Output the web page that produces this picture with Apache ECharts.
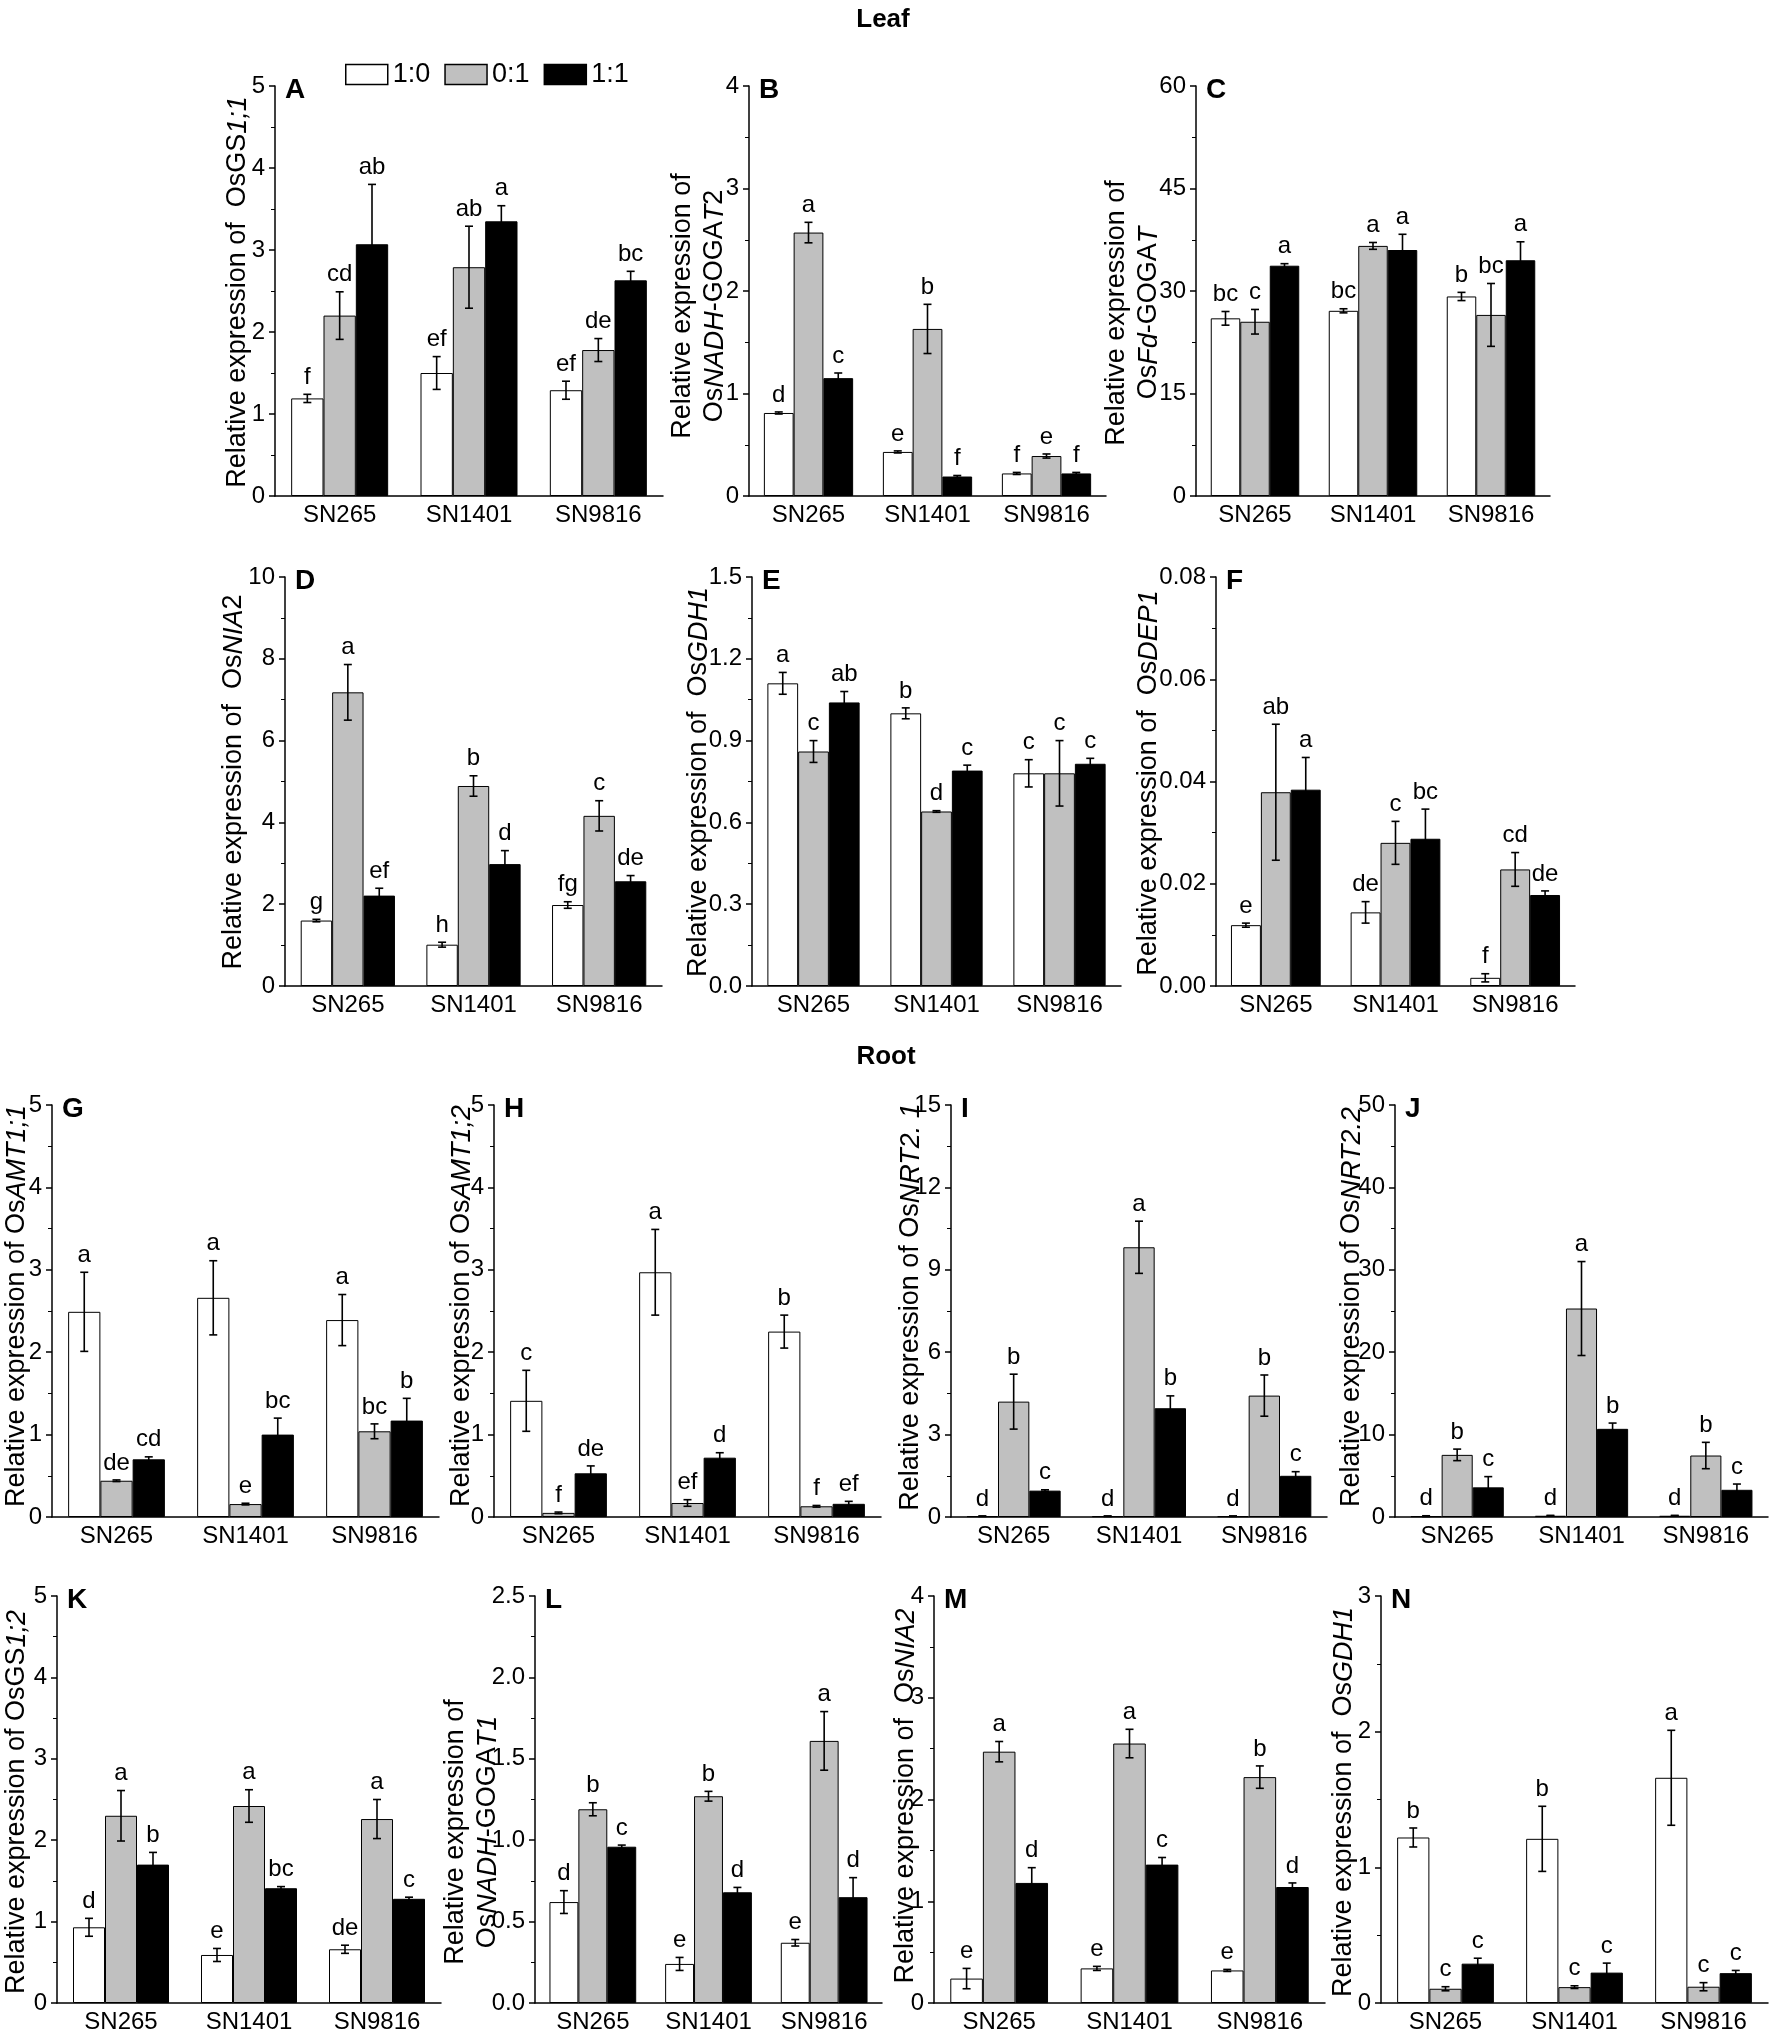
<!DOCTYPE html>
<html>
<head>
<meta charset="utf-8">
<script src="https://cdn.jsdelivr.net/npm/echarts@6/dist/echarts.min.js"></script>
<style>
  html, body { margin: 0; padding: 0; background: #fff; }
  #chart { width: 1772px; height: 2038px; }
</style>
</head>
<body>
<div id="chart"></div>
<script>
var cultivars = ['SN265', 'SN1401', 'SN9816'];
var treatments = ['1:0', '0:1', '1:1'];

// each array: [1:0 values, 0:1 values, 1:1 values], per cultivar
// Leaf
var aMean = [[1.19, 1.50, 1.29], [2.20, 2.79, 1.78], [3.07, 3.35, 2.63]];
var aErr  = [[0.05, 0.20, 0.11], [0.29, 0.50, 0.14], [0.73, 0.19, 0.11]];
var aSig  = [['f', 'ef', 'ef'], ['cd', 'ab', 'de'], ['ab', 'a', 'bc']];

var bMean = [[0.81, 0.43, 0.22], [2.57, 1.63, 0.39], [1.15, 0.19, 0.22]];
var bErr  = [[0.01, 0.01, 0.01], [0.10, 0.24, 0.02], [0.05, 0.01, 0.01]];
var bSig  = [['d', 'e', 'f'], ['a', 'b', 'e'], ['c', 'f', 'f']];

var cMean = [[26.0, 27.1, 29.2], [25.5, 36.6, 26.5], [33.7, 36.0, 34.5]];
var cErr  = [[1.0, 0.3, 0.6], [1.8, 0.5, 4.6], [0.3, 2.3, 2.7]];
var cSig  = [['bc', 'bc', 'b'], ['c', 'a', 'bc'], ['a', 'a', 'a']];

var dMean = [[1.60, 1.01, 1.98], [7.18, 4.89, 4.16], [2.21, 2.98, 2.56]];
var dErr  = [[0.03, 0.06, 0.08], [0.68, 0.25, 0.37], [0.18, 0.33, 0.14]];
var dSig  = [['g', 'h', 'fg'], ['a', 'b', 'c'], ['ef', 'd', 'de']];

var eMean = [[1.11, 1.00, 0.78], [0.86, 0.64, 0.78], [1.04, 0.79, 0.815]];
var eErr  = [[0.04, 0.02, 0.05], [0.04, 0.003, 0.12], [0.04, 0.02, 0.02]];
var eSig  = [['a', 'b', 'c'], ['c', 'd', 'c'], ['ab', 'c', 'c']];

var fMean = [[0.0119, 0.0144, 0.0016], [0.0379, 0.0280, 0.0228], [0.0384, 0.0288, 0.0178]];
var fErr  = [[0.0004, 0.0021, 0.0008], [0.0133, 0.0042, 0.0033], [0.0063, 0.0058, 0.0008]];
var fSig  = [['e', 'de', 'f'], ['ab', 'c', 'cd'], ['a', 'bc', 'de']];

// Root
var gMean = [[2.49, 2.66, 2.39], [0.44, 0.157, 1.04], [0.70, 1.00, 1.17]];
var gErr  = [[0.48, 0.45, 0.31], [0.01, 0.01, 0.09], [0.03, 0.20, 0.27]];
var gSig  = [['a', 'a', 'a'], ['de', 'e', 'bc'], ['cd', 'bc', 'b']];

var hMean = [[1.41, 2.97, 2.25], [0.05, 0.17, 0.13], [0.53, 0.72, 0.16]];
var hErr  = [[0.37, 0.52, 0.20], [0.01, 0.04, 0.01], [0.09, 0.06, 0.03]];
var hSig  = [['c', 'a', 'b'], ['f', 'ef', 'f'], ['de', 'd', 'ef']];

var iMean = [[0.03, 0.03, 0.03], [4.20, 9.82, 4.42], [0.96, 3.96, 1.50]];
var iErr  = [[0.01, 0.01, 0.01], [1.00, 0.95, 0.75], [0.03, 0.45, 0.15]];
var iSig  = [['d', 'd', 'd'], ['b', 'a', 'b'], ['c', 'b', 'c']];

var jMean = [[0.10, 0.15, 0.15], [7.54, 25.3, 7.46], [3.6, 10.7, 3.3]];
var jErr  = [[0.05, 0.05, 0.05], [0.70, 5.7, 1.6], [1.3, 0.7, 0.7]];
var jSig  = [['d', 'd', 'd'], ['b', 'a', 'b'], ['c', 'b', 'c']];

var kMean = [[0.93, 0.59, 0.66], [2.30, 2.42, 2.26], [1.70, 1.41, 1.28]];
var kErr  = [[0.11, 0.08, 0.05], [0.31, 0.20, 0.24], [0.15, 0.02, 0.02]];
var kSig  = [['d', 'e', 'de'], ['a', 'a', 'a'], ['b', 'bc', 'c']];

var lMean = [[0.62, 0.24, 0.37], [1.19, 1.27, 1.61], [0.96, 0.68, 0.65]];
var lErr  = [[0.07, 0.04, 0.02], [0.04, 0.03, 0.18], [0.01, 0.03, 0.12]];
var lSig  = [['d', 'e', 'e'], ['b', 'b', 'a'], ['c', 'd', 'd']];

var mMean = [[0.24, 0.34, 0.32], [2.47, 2.55, 2.22], [1.18, 1.36, 1.14]];
var mErr  = [[0.10, 0.02, 0.01], [0.10, 0.14, 0.11], [0.15, 0.07, 0.04]];
var mSig  = [['e', 'e', 'e'], ['a', 'a', 'b'], ['d', 'c', 'd']];

var nMean = [[1.22, 1.21, 1.66], [0.105, 0.117, 0.12], [0.29, 0.224, 0.22]];
var nErr  = [[0.07, 0.24, 0.35], [0.015, 0.01, 0.03], [0.04, 0.07, 0.02]];
var nSig  = [['b', 'b', 'a'], ['c', 'c', 'c'], ['c', 'c', 'c']];

// y axis: max, interval, decimals
var axisMax   = [5, 4, 60, 10, 1.5, 0.08, 5, 5, 15, 50, 5, 2.5, 4, 3];
var axisStep  = [1, 1, 15, 2, 0.3, 0.02, 1, 1, 3, 10, 1, 0.5, 1, 1];
var axisDigits = [0, 0, 0, 0, 1, 2, 0, 0, 0, 0, 0, 1, 0, 0];

var panelIds = ['A', 'B', 'C', 'D', 'E', 'F', 'G', 'H', 'I', 'J', 'K', 'L', 'M', 'N'];
var geneLabels = [
  'Relative expression of  OsGS{i|1;1}',
  'Relative expression of\nOs{i|NADH}-GOGA{i|T}2',
  'Relative expression of\nOs{i|Fd}-GOGA{i|T}',
  'Relative expression of  Os{i|NIA}2',
  'Relative expression of  Os{i|GDH1}',
  'Relative expression of  Os{i|DEP1}',
  'Relative expression of Os{i|AMT1;1}',
  'Relative expression of Os{i|AMT1;2}',
  'Relative expression of Os{i|NRT2. 1}',
  'Relative expression of Os{i|NRT2.2}',
  'Relative expression of OsGS{i|1;2}',
  'Relative expression of\nOs{i|NADH}-GOGA{i|T1}',
  'Relative expression of  Os{i|NIA2}',
  'Relative expression of  Os{i|GDH1}'
];

var means = [aMean, bMean, cMean, dMean, eMean, fMean, gMean, hMean, iMean, jMean, kMean, lMean, mMean, nMean];
var errs  = [aErr, bErr, cErr, dErr, eErr, fErr, gErr, hErr, iErr, jErr, kErr, lErr, mErr, nErr];
var sigs  = [aSig, bSig, cSig, dSig, eSig, fSig, gSig, hSig, iSig, jSig, kSig, lSig, mSig, nSig];

// layout (px): plot box [left, top, right, bottom], y-label centre [x, y]
var boxes = [
  [275, 86, 663, 496], [749, 86, 1106, 496], [1196, 86, 1550, 496],
  [285, 577, 662, 986], [752, 577, 1121, 986], [1216, 577, 1575, 986],
  [52, 1105, 439, 1517], [494, 1105, 881, 1517], [951, 1105, 1327, 1517], [1395, 1105, 1768, 1517],
  [57, 1596, 441, 2003], [535, 1596, 882, 2003], [934, 1596, 1325, 2003], [1381, 1596, 1768, 2003]
];
var labelPos = [
  [238, 292], [699, 306], [1133, 313],
  [234, 782], [699, 782], [1149, 783],
  [17, 1306], [462, 1306], [911, 1307], [1352, 1307],
  [17, 1802], [472, 1832], [906, 1796], [1344, 1802]
];

var FONT = '"Liberation Sans", Arial, sans-serif';
var fills = ['#ffffff', '#c0c0c0', '#000000'];
var offsets = [-0.25, 0, 0.25];

function errorBars(letters) {
  return function (params, api) {
    var ci = api.value(0), m = api.value(1), e = api.value(2), t = api.value(3);
    var band = api.size([1, 0])[0];
    var x = api.coord([ci, m])[0] + offsets[t] * band;
    var yTop = api.coord([ci, m + e])[1];
    var yBot = api.coord([ci, Math.max(m - e, 0)])[1];
    var cap = 4;
    var st = { stroke: '#000', lineWidth: 1.6 };
    return {
      type: 'group',
      children: [
        { type: 'line', shape: { x1: x, y1: yTop, x2: x, y2: yBot }, style: st },
        { type: 'line', shape: { x1: x - cap, y1: yTop, x2: x + cap, y2: yTop }, style: st },
        { type: 'line', shape: { x1: x - cap, y1: yBot, x2: x + cap, y2: yBot }, style: st },
        {
          type: 'text', x: x, y: yTop - 5,
          style: {
            text: letters[params.dataIndex], align: 'center', verticalAlign: 'bottom',
            fontSize: 24, fontFamily: FONT, fill: '#000'
          }
        }
      ]
    };
  };
}

var grids = [], xAxes = [], yAxes = [], series = [], graphics = [];

panelIds.forEach(function (id, k) {
  var b = boxes[k];
  grids.push({ left: b[0], top: b[1], width: b[2] - b[0], height: b[3] - b[1] });
  xAxes.push({
    type: 'category', gridIndex: k, data: cultivars,
    axisLine: { lineStyle: { color: '#000', width: 1.5 } },
    axisTick: { length: 6, lineStyle: { color: '#000', width: 1.5 } },
    axisLabel: { color: '#000', fontSize: 24, fontFamily: FONT, margin: 7 }
  });
  var digits = axisDigits[k];
  yAxes.push({
    type: 'value', gridIndex: k, min: 0, max: axisMax[k], interval: axisStep[k],
    axisLine: { show: true, lineStyle: { color: '#000', width: 1.5 } },
    axisTick: { show: true, length: 6, lineStyle: { color: '#000', width: 1.5 } },
    minorTick: { show: true, splitNumber: 2, length: 4, lineStyle: { color: '#000', width: 1 } },
    splitLine: { show: false },
    axisLabel: {
      color: '#000', fontSize: 24, fontFamily: FONT, margin: 10,
      formatter: function (v) { return v.toFixed(digits); }
    }
  });

  treatments.forEach(function (tr, t) {
    series.push({
      type: 'bar', name: tr, xAxisIndex: k, yAxisIndex: k,
      data: means[k][t], barGap: '0%', barCategoryGap: '25%', silent: true,
      itemStyle: { color: fills[t], borderColor: '#000', borderWidth: 1 }
    });
  });

  var errData = [], letters = [];
  treatments.forEach(function (tr, t) {
    cultivars.forEach(function (cv, c) {
      errData.push([c, means[k][t][c], errs[k][t][c], t]);
      letters.push(sigs[k][t][c]);
    });
  });
  series.push({
    type: 'custom', xAxisIndex: k, yAxisIndex: k, z: 5, silent: true,
    renderItem: errorBars(letters), data: errData
  });

  graphics.push({
    type: 'text', left: b[0] + 10, top: b[1] - 10,
    style: { text: id, fontSize: 28, fontWeight: 'bold', fontFamily: FONT, fill: '#000' }
  });
  var lp = labelPos[k];
  graphics.push({
    type: 'text', x: lp[0], y: lp[1], rotation: Math.PI / 2,
    style: {
      text: geneLabels[k], align: 'center', verticalAlign: 'middle',
      fontSize: 27, fontFamily: FONT, fill: '#000', lineHeight: 32,
      rich: { i: { fontStyle: 'italic', fontSize: 27, fontFamily: FONT, lineHeight: 32 } }
    }
  });
});

graphics.push({
  type: 'text', x: 883, y: 20,
  style: { text: 'Leaf', align: 'center', verticalAlign: 'middle', fontSize: 26, fontWeight: 'bold', fontFamily: FONT, fill: '#000' }
});
graphics.push({
  type: 'text', x: 886, y: 1057,
  style: { text: 'Root', align: 'center', verticalAlign: 'middle', fontSize: 26, fontWeight: 'bold', fontFamily: FONT, fill: '#000' }
});

var chart = echarts.init(document.getElementById('chart'), null, { renderer: 'canvas' });
chart.setOption({
  backgroundColor: '#fff',
  animation: false,
  legend: {
    data: treatments, left: 340, top: 56, itemWidth: 42, itemHeight: 20, itemGap: 14,
    icon: 'rect', selectedMode: false,
    itemStyle: { borderColor: '#000', borderWidth: 1.5 },
    textStyle: { color: '#000', fontSize: 27, fontFamily: FONT }
  },
  grid: grids,
  xAxis: xAxes,
  yAxis: yAxes,
  series: series,
  graphic: graphics
});
</script>
</body>
</html>
